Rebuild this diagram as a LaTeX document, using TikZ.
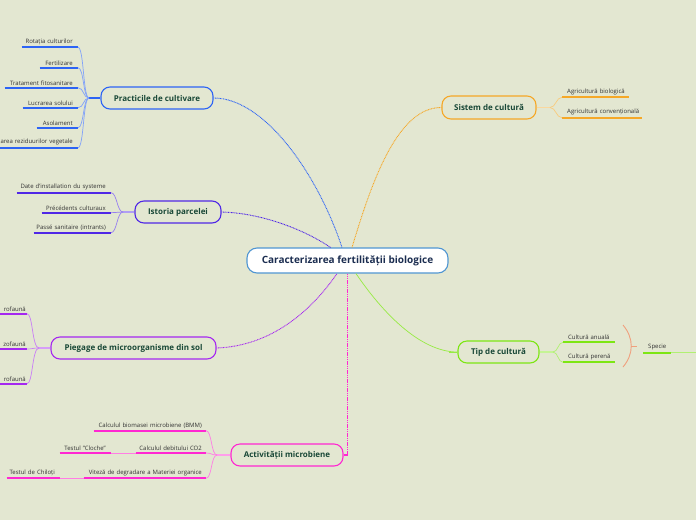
\documentclass[tikz,border=0pt]{standalone}
\usepackage{fontspec}
\setmainfont{Open Sans}
\newcommand{\rtx}[1]{\makebox[\linewidth][r]{#1}}
\newcommand{\ltx}[1]{\makebox[\linewidth][l]{#1}}
\begin{document}
\begin{tikzpicture}[x=1pt,y=-1pt,
  central/.style={draw=cblue, line width=1.1pt, fill=white, rounded corners=10pt, minimum width=201pt, minimum height=25pt, inner sep=0pt, font=\fontsize{10}{12}\selectfont\bfseries, text=navy},
  topic/.style={draw=#1, line width=1.1pt, rounded corners=9pt, minimum height=22pt, inner sep=0pt, font=\fontsize{8}{10}\selectfont\bfseries, text=tgreen},
  leafL/.style={anchor=south east, text width=#1, align=left, inner xsep=5pt, inner ysep=2.2pt, font=\fontsize{6}{7}\selectfont, text=ltext},
  leafR/.style={anchor=south west, text width=#1, align=left, inner xsep=5pt, inner ysep=2.2pt, font=\fontsize{6}{7}\selectfont, text=ltext},
  link/.style={dash pattern=on 0.9pt off 0.7pt, line width=0.9pt},
  uline/.style={line width=1.8pt},
  twig/.style={line width=0.7pt},
  stub/.style={line width=1.6pt}
]
\definecolor{bg}{RGB}{227,231,209}
\definecolor{cblue}{RGB}{80,150,210}
\definecolor{navy}{RGB}{27,45,80}
\definecolor{tgreen}{RGB}{25,72,55}
\definecolor{ltext}{RGB}{50,50,50}
\definecolor{bBlue}{RGB}{45,100,245}
\definecolor{bIndigo}{RGB}{80,40,230}
\definecolor{bPurple}{RGB}{165,40,240}
\definecolor{bMag}{RGB}{255,40,210}
\definecolor{bOrange}{RGB}{245,168,40}
\definecolor{bGreen}{RGB}{125,230,20}
\definecolor{bSalmon}{RGB}{240,160,125}

\fill[bg] (0,0) rectangle (696,520);
\useasboundingbox (0,0) rectangle (696,520);

% central
\node[central] (c) at (347.5,260.5) {Caracterizarea fertilității biologice};

% topics
\node[topic=bBlue, minimum width=112pt] (prac) at (157,98) {Practicile de cultivare};
\node[topic=bIndigo, minimum width=86pt] (ist) at (178,212) {Istoria parcelei};
\node[topic=bOrange, minimum width=94pt, minimum height=23pt] (sis) at (489,107.5) {Sistem de cultură};
\node[topic=bPurple, minimum width=165pt] (pie) at (133.5,348) {Piegage de microorganisme din sol};
\node[topic=bGreen, minimum width=81pt] (tip) at (498.5,352) {Tip de cultură};
\node[topic=bMag, minimum width=112pt] (act) at (287,455) {Activității microbiene};

% links from central
\coordinate (ac) at (347.5,455);
\draw[link, draw=bBlue] (prac.east) .. controls (265,98) and (318,175) .. ([xshift=-5.5pt]c.north);
\draw[link, draw=bIndigo] (ist.east) .. controls (262,213) and (305,230) .. ([xshift=-17pt]c.north);
\draw[link, draw=bOrange] (sis.west) .. controls (396,107) and (370,188) .. ([xshift=4.5pt]c.north);
\draw[link, draw=bPurple] (pie.east) .. controls (272,346) and (312,310) .. ([xshift=-10.5pt]c.south);
\draw[dash pattern=on 1.2pt off 0.6pt, line width=1.3pt, draw=bMag] (act.east) -- (ac) -- (ac|-c.south);
\draw[line width=0.7pt, draw=bGreen!80!white] ([xshift=8.5pt]c.south) .. controls (382,312) and (420,352) .. (tip.west);
\draw[line width=0.7pt, draw=bGreen!80!white] ([xshift=-8pt]tip.west) -- (tip.west);

% ---------- Practicile children
\coordinate (pj) at (89,98);
\draw[stub, bBlue] (prac.west) -- (pj);
\node[leafL=46pt] (p1) at (78,47.3) {\rtx{Rotația culturilor}};
\node[leafL=28pt] (p2) at (78,67.7) {\rtx{Fertilizare}};
\node[leafL=63pt] (p3) at (78,87.7) {\rtx{Tratament fitosanitare}};
\node[leafL=45pt] (p4) at (78,107.7) {\rtx{Lucrarea solului}};
\node[leafL=31pt] (p5) at (78,127.7) {\rtx{Asolament}};
\node[leafL=68pt] (p6) at (78,147.7) {\rtx{area reziduurilor vegetale}};
\foreach \n in {p1,p2,p3,p4,p5,p6}{
  \draw[uline, bBlue] (\n.south west) -- (\n.south east);
  \draw[twig, bBlue!60!white] (pj) .. controls (83,98) and (84,0|-\n.south east) .. (\n.south east);
}

% ---------- Istoria children
\coordinate (ij) at (123,212);
\draw[stub, bIndigo!45!white] (ist.west) -- (ij);
\node[leafL=84pt] (i1) at (111,192.7) {\rtx{Date d'installation du systeme}};
\node[leafL=59pt] (i2) at (111,212.7) {\rtx{Précédents culturaux}};
\node[leafL=67pt] (i3) at (111,232.7) {\rtx{Passé sanitaire (intrants)}};
\foreach \n in {i1,i2,i3}{
  \draw[uline, bIndigo] (\n.south west) -- (\n.south east);
  \draw[twig, bIndigo!60!white] (ij) .. controls (117,212) and (117,0|-\n.south east) .. (\n.south east);
}

% ---------- Piegage children
\coordinate (gj) at (39,348);
\draw[stub, bPurple!45!white] (pie.west) -- (gj);
\node[leafL=25pt, inner xsep=1pt] (g1) at (27,313.7) {\rtx{rofaună}};
\node[leafL=25pt, inner xsep=1pt] (g2) at (27,349) {\rtx{zofaună}};
\node[leafL=25pt, inner xsep=1pt] (g3) at (27,383.7) {\rtx{rofaună}};
\foreach \n in {g1,g2,g3}{
  \draw[uline, bPurple] (\n.south west) -- (\n.south east);
  \draw[twig, bPurple!60!white] (gj) .. controls (32,348) and (33,0|-\n.south east) .. (\n.south east);
}

% ---------- Activitati children
\coordinate (aj) at (217,455);
\draw[stub, bMag!45!white] (act.west) -- (aj);
\node[leafL=104pt, inner xsep=4pt] (a1) at (206,430.7) {\rtx{Calculul biomasei microbiene (BMM)}};
\node[leafL=62pt, inner xsep=4pt] (a2) at (206,453) {\rtx{Calculul debitului CO2}};
\node[leafL=114pt, inner xsep=4pt] (a3) at (206,478.3) {\rtx{Viteză de degradare a Materiei organice}};
\node[leafL=41pt] (a21) at (111,453) {\rtx{Testul ''Cloche''}};
\node[leafL=43pt] (a31) at (60,478.3) {\rtx{Testul de Chiloți}};
\foreach \n in {a1,a2,a3}{
  \draw[uline, bMag] (\n.south west) -- (\n.south east);
  \draw[twig, bMag!60!white] (aj) .. controls (211,455) and (212,0|-\n.south east) .. (\n.south east);
}
\draw[uline, bMag] (a21.south west) -- (a21.south east);
\draw[uline, bMag] (a31.south west) -- (a31.south east);
\draw[twig, bMag!60!white] (a21.south east) -- (a2.south west);
\draw[twig, bMag!60!white] (a31.south east) -- (a3.south west);

% ---------- Sistem children
\coordinate (sj) at (550,107.5);
\draw[stub, bOrange!45!white] (sis.east) -- (sj);
\node[leafR=57pt] (s1) at (562,97.3) {\ltx{Agricultură biologică}};
\node[leafR=70pt] (s2) at (562,117.7) {\ltx{Agricultură convențională}};
\foreach \n in {s1,s2}{
  \draw[uline, bOrange] (\n.south west) -- (\n.south east);
  \draw[twig, bOrange!60!white] (sj) .. controls (556,107.5) and (556,0|-\n.south west) .. (\n.south west);
}

% ---------- Tip children
\coordinate (tj) at (553,352);
\draw[stub, bGreen!45!white] (tip.east) -- (tj);
\node[leafR=42pt] (t1) at (563,342.3) {\ltx{Cultură anuală}};
\node[leafR=42pt] (t2) at (563,362.3) {\ltx{Cultură perenă}};
\foreach \n in {t1,t2}{
  \draw[uline, bGreen] (\n.south west) -- (\n.south east);
  \draw[twig, bGreen!60!white] (tj) .. controls (558,352) and (558,0|-\n.south west) .. (\n.south west);
}
% summary bracket
\coordinate (bt) at (623,325);
\coordinate (bb) at (623,367);
\coordinate (bm) at (631,346);
\coordinate (bk) at (637,346);
\draw[line width=0.9pt, bSalmon] (bt) .. controls (634,338) and (634,354) .. (bb);
\draw[line width=0.9pt, bSalmon] (bm) -- (bk);
\node[leafR=18pt] (sp) at (643,352.7) {\ltx{Specie}};
\coordinate (spe) at (696,352.7);
\draw[uline, bGreen] (sp.south west) -- (sp.south east);
\draw[twig, bGreen!60!white] (sp.south east) -- (spe);
\end{tikzpicture}
\end{document}
